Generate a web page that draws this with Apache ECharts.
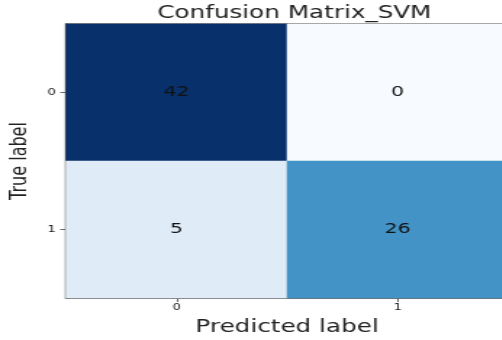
<!DOCTYPE html>
<html>
<head>
<meta charset="utf-8">
<script src="https://cdn.jsdelivr.net/npm/echarts@6/dist/echarts.min.js"></script>
<style>
  html, body { margin: 0; padding: 0; background: #fff; overflow: hidden; }
  #wrap { width: 502px; height: 340px; overflow: hidden; }
  /* the figure is drawn narrow and stretched sideways, giving the wide lettering */
  #chart { width: 346px; height: 340px; transform: scaleX(1.45); transform-origin: 0 0; }
</style>
</head>
<body>
<div id="wrap"><div id="chart"></div></div>
<script>
// Class labels and confusion counts (rows = true label, columns = predicted label)
const predictedLabels = ['0', '1'];
const trueLabels = ['0', '1'];
const row0 = [42, 0];
const row1 = [5, 26];

const matrix = [row0, row1];
const cells = [];
matrix.forEach((row, i) => {
  row.forEach((v, j) => cells.push([j, i, v]));
});

// Matplotlib "Blues" colour ramp
const blues = ['#f7fbff', '#deebf7', '#c6dbef', '#9ecae1', '#6baed6',
               '#4292c6', '#2171b5', '#08519c', '#08306b'];

const gridLeft = 45.5, gridWidth = 305;

const chart = echarts.init(document.getElementById('chart'));
chart.setOption({
  animation: false,
  backgroundColor: '#fff',
  title: {
    text: 'Confusion Matrix_SVM',
    left: gridLeft + gridWidth / 2,
    textAlign: 'center',
    top: 0,
    textStyle: { fontFamily: 'DejaVu Sans', fontSize: 17, fontWeight: 'normal', color: '#222' }
  },
  grid: {
    left: gridLeft, top: 24, width: gridWidth, height: 274,
    outerBoundsMode: 'none',
    containLabel: false,
    show: true, borderColor: '#666', borderWidth: 1.5, backgroundColor: 'transparent'
  },
  xAxis: {
    type: 'category',
    data: predictedLabels,
    name: 'Predicted label',
    nameLocation: 'middle',
    nameGap: 21,
    nameTextStyle: { fontFamily: 'DejaVu Sans', fontSize: 17, color: '#222' },
    axisLine: { show: true, lineStyle: { color: '#666', width: 1.5 } },
    axisTick: { show: true, alignWithLabel: true, length: 4, lineStyle: { color: '#666' } },
    axisLabel: { fontFamily: 'DejaVu Sans', fontSize: 9, color: '#222', margin: 5 },
    splitLine: { show: false }
  },
  yAxis: {
    type: 'category',
    data: trueLabels,
    inverse: true,
    name: 'True label',
    nameLocation: 'middle',
    nameGap: 19,
    nameTextStyle: { fontFamily: 'DejaVu Sans', fontSize: 16, color: '#222' },
    axisLine: { show: true, lineStyle: { color: '#666', width: 1.5 } },
    axisTick: { show: true, alignWithLabel: true, length: 4, lineStyle: { color: '#666' } },
    axisLabel: { fontFamily: 'DejaVu Sans', fontSize: 9, color: '#222', margin: 7 },
    splitLine: { show: false }
  },
  visualMap: {
    show: false,
    min: 0,
    max: 42,
    calculable: false,
    inRange: { color: blues }
  },
  series: [{
    type: 'heatmap',
    data: cells,
    label: {
      show: true,
      fontFamily: 'DejaVu Sans',
      fontSize: 14,
      color: '#111'
    },
    itemStyle: { borderWidth: 0 },
    emphasis: { disabled: true }
  }]
});
</script>
</body>
</html>
